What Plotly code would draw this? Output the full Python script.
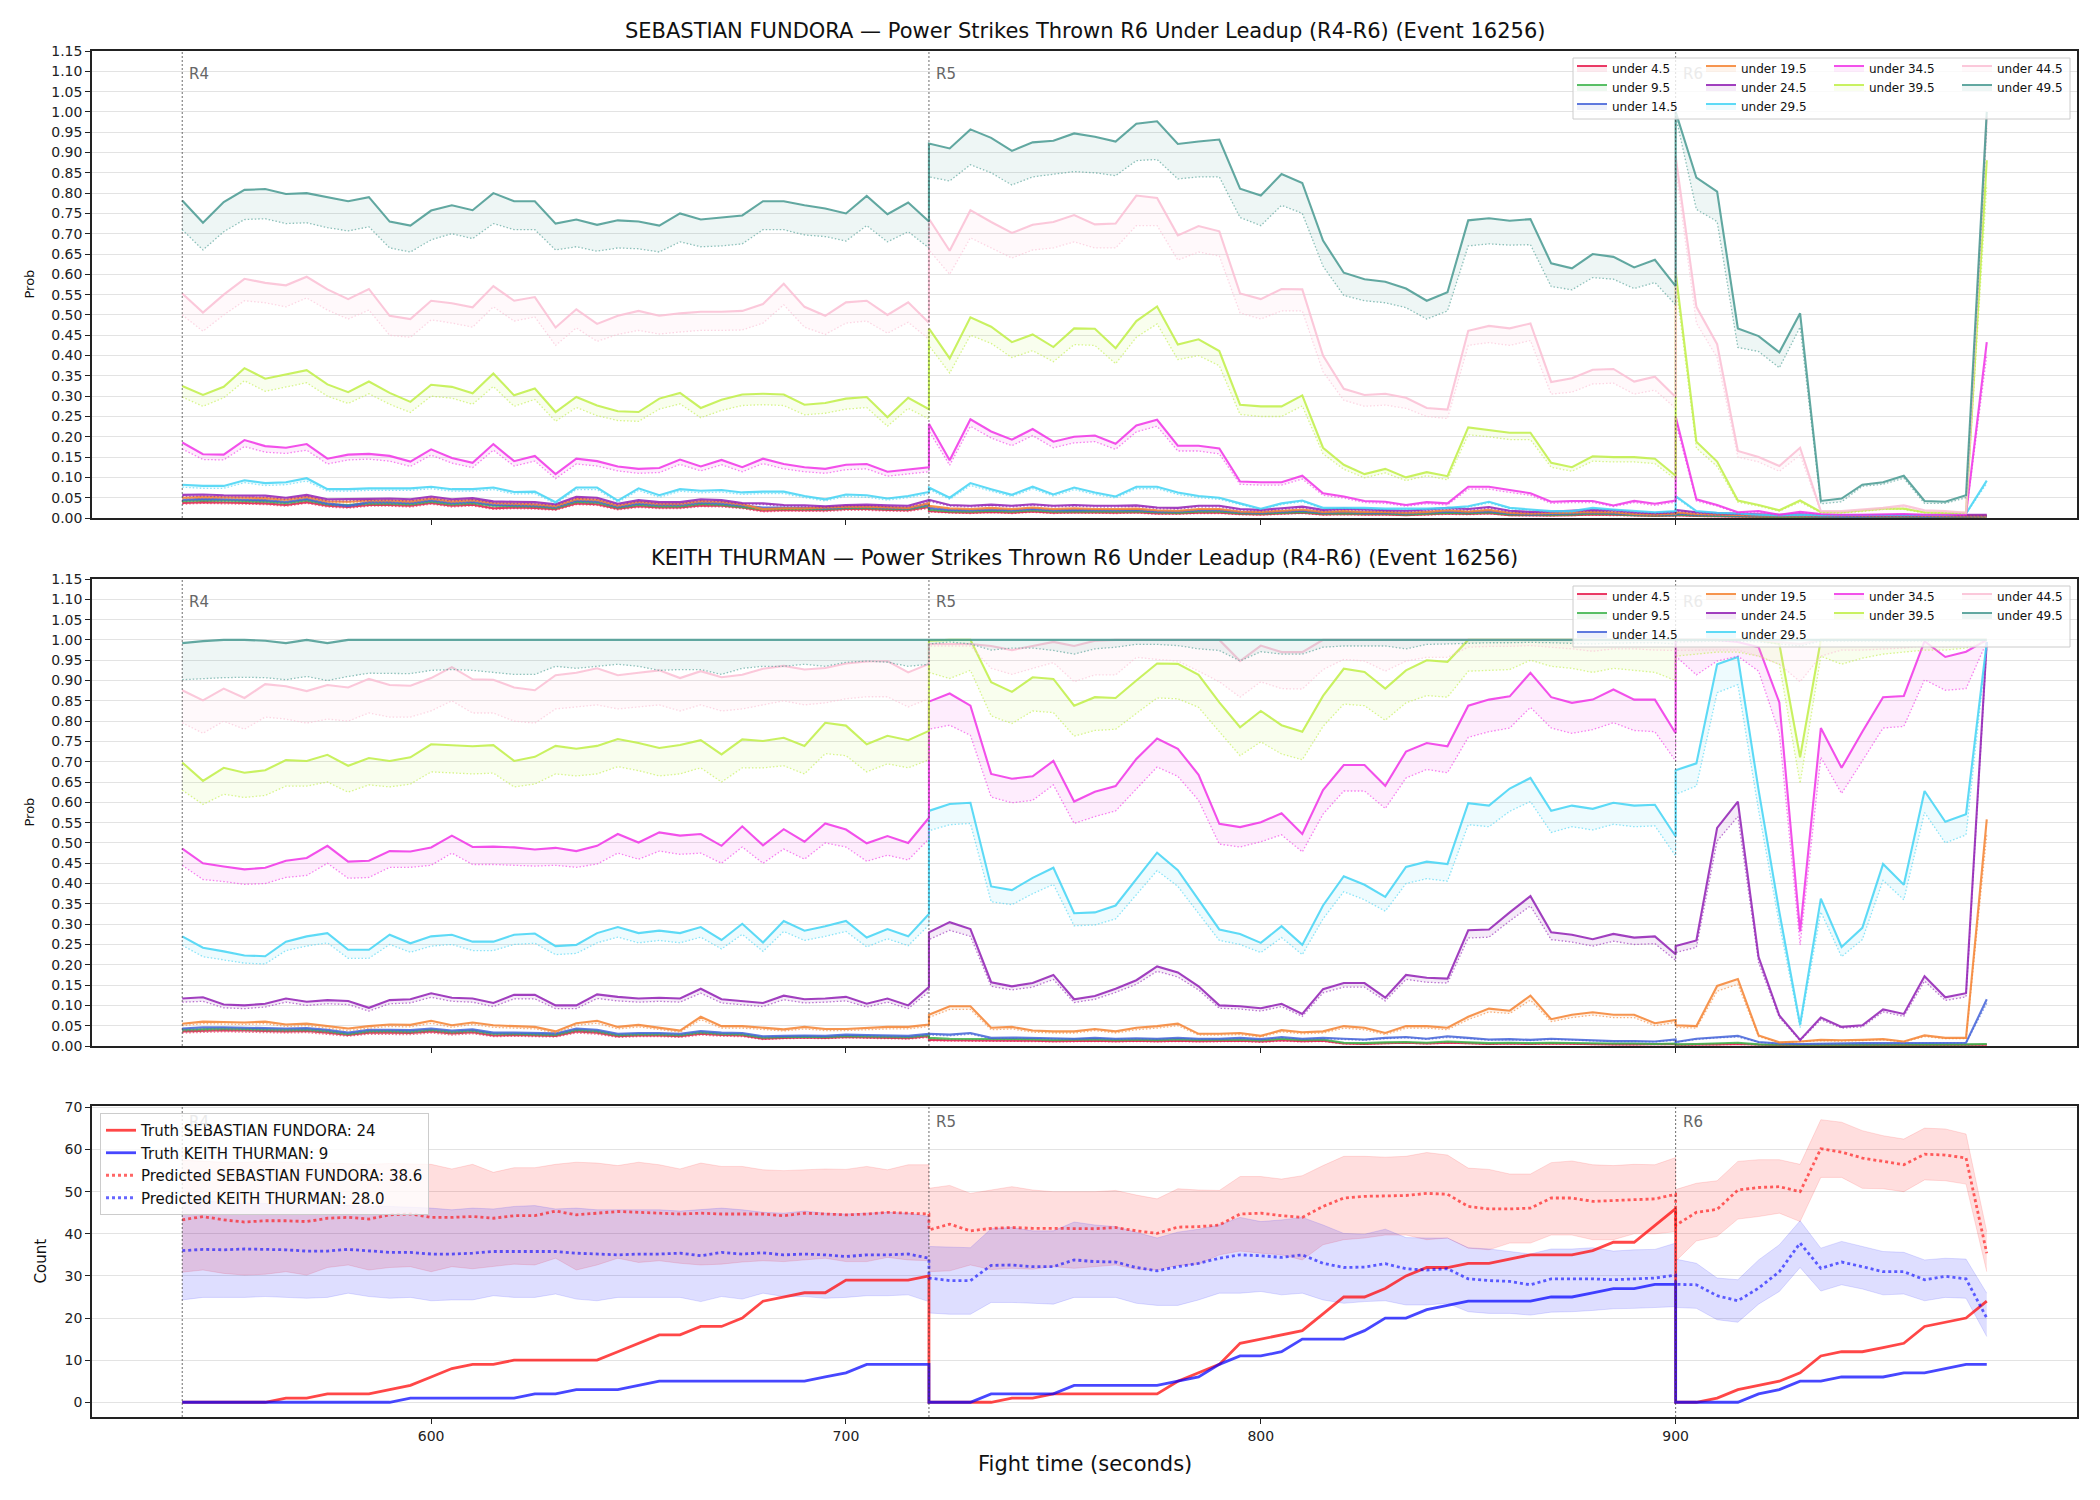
import plotly.graph_objects as go

FONT = "DejaVu Sans"

# ---------------- time axis (R4, R5, R6 samples every 5 s) ----------------
X = list(range(540, 721, 5)) + list(range(720, 901, 5)) + list(range(900, 976, 5))
ROUND_STARTS = [540, 720, 900]
ROUND_NAMES = ["R4", "R5", "R6"]
XTICKS = [600, 700, 800, 900]

LABELS = ["under 4.5", "under 9.5", "under 14.5", "under 19.5", "under 24.5",
          "under 29.5", "under 34.5", "under 39.5", "under 44.5", "under 49.5"]
COLORS = ["#e6194b", "#3cb44b", "#4363d8", "#f58231", "#911eb4",
          "#42d4f4", "#f032e6", "#bfef45", "#fabed4", "#469990"]

TITLE_F = "SEBASTIAN FUNDORA — Power Strikes Thrown R6 Under Leadup (R4-R6) (Event 16256)"
TITLE_T = "KEITH THURMAN — Power Strikes Thrown R6 Under Leadup (R4-R6) (Event 16256)"

# ================= SEBASTIAN FUNDORA : upper (solid) / lower (dotted) =================
F_U4 = [0.037,0.039,0.038,0.037,0.036,0.032,0.039,0.030,0.027,0.032,0.032,0.030,0.037,0.030,0.033,0.024,0.026,0.025,0.022,0.036,0.034,0.023,0.029,0.026,0.026,0.031,0.030,0.026,0.018,0.020,0.020,0.019,0.022,0.022,0.020,0.019,0.027,
        0.017,0.014,0.013,0.015,0.013,0.016,0.013,0.014,0.013,0.013,0.014,0.011,0.011,0.013,0.013,0.010,0.009,0.011,0.013,0.009,0.010,0.009,0.009,0.007,0.009,0.011,0.010,0.012,0.007,0.006,0.006,0.007,0.009,0.008,0.006,0.005,0.006,
        0.007,0.005,0.004,0.003,0.003,0.002,0.003,0.002,0.002,0.002,0.003,0.003,0.002,0.002,0.003,0.003]
F_U4_LO = [0.034,0.036,0.035,0.034,0.033,0.029,0.036,0.027,0.024,0.029,0.029,0.027,0.034,0.027,0.030,0.021,0.023,0.022,0.019,0.033,0.031,0.020,0.026,0.023,0.023,0.028,0.027,0.023,0.015,0.017,0.017,0.016,0.019,0.019,0.017,0.016,0.024,
           0.015,0.012,0.011,0.013,0.011,0.014,0.011,0.012,0.011,0.011,0.012,0.009,0.009,0.011,0.011,0.008,0.007,0.009,0.011,0.007,0.008,0.007,0.007,0.006,0.007,0.009,0.008,0.010,0.006,0.005,0.005,0.006,0.007,0.006,0.005,0.004,0.005,
           0.006,0.004,0.003,0.002,0.002,0.002,0.002,0.002,0.002,0.002,0.002,0.002,0.002,0.002,0.002,0.002]
F_U9 = [0.042,0.044,0.043,0.042,0.041,0.037,0.044,0.034,0.032,0.036,0.036,0.034,0.041,0.034,0.037,0.030,0.030,0.029,0.025,0.040,0.038,0.026,0.033,0.029,0.029,0.035,0.033,0.028,0.022,0.023,0.023,0.022,0.025,0.025,0.023,0.022,0.031,
        0.021,0.017,0.016,0.018,0.016,0.019,0.016,0.017,0.016,0.016,0.017,0.014,0.013,0.016,0.016,0.012,0.011,0.013,0.015,0.011,0.012,0.011,0.011,0.009,0.011,0.013,0.012,0.014,0.009,0.008,0.008,0.009,0.011,0.010,0.007,0.006,0.007,
        0.009,0.006,0.005,0.004,0.004,0.003,0.004,0.003,0.003,0.003,0.004,0.004,0.003,0.003,0.004,0.004]
F_U9_LO = [0.039,0.041,0.040,0.039,0.038,0.034,0.041,0.031,0.029,0.033,0.033,0.031,0.038,0.031,0.034,0.027,0.027,0.026,0.022,0.037,0.035,0.023,0.030,0.026,0.026,0.032,0.030,0.025,0.019,0.020,0.020,0.019,0.022,0.022,0.020,0.019,0.028,
           0.018,0.015,0.014,0.016,0.014,0.017,0.014,0.015,0.014,0.014,0.015,0.012,0.011,0.014,0.014,0.010,0.009,0.011,0.013,0.009,0.010,0.009,0.009,0.007,0.009,0.011,0.010,0.012,0.007,0.006,0.006,0.007,0.009,0.008,0.006,0.005,0.006,
           0.007,0.005,0.004,0.003,0.003,0.002,0.003,0.002,0.002,0.002,0.003,0.003,0.002,0.002,0.003,0.003]
F_U14 = [0.045,0.047,0.046,0.045,0.044,0.040,0.047,0.036,0.030,0.039,0.039,0.037,0.044,0.037,0.040,0.033,0.032,0.031,0.027,0.043,0.041,0.028,0.036,0.032,0.032,0.038,0.036,0.031,0.026,0.026,0.025,0.024,0.027,0.027,0.025,0.024,0.034,
         0.025,0.020,0.019,0.021,0.019,0.022,0.019,0.020,0.019,0.019,0.020,0.016,0.016,0.019,0.019,0.014,0.013,0.015,0.018,0.013,0.015,0.013,0.013,0.011,0.013,0.016,0.014,0.017,0.011,0.009,0.010,0.011,0.013,0.012,0.009,0.008,0.009,
         0.011,0.008,0.007,0.006,0.005,0.005,0.005,0.004,0.004,0.004,0.005,0.005,0.004,0.004,0.005,0.005]
F_U14_LO = [0.042,0.044,0.043,0.042,0.041,0.037,0.044,0.033,0.027,0.036,0.036,0.034,0.041,0.034,0.037,0.030,0.029,0.028,0.024,0.040,0.038,0.025,0.033,0.029,0.029,0.035,0.033,0.028,0.023,0.023,0.022,0.021,0.024,0.024,0.022,0.021,0.031,
            0.022,0.018,0.017,0.019,0.017,0.020,0.017,0.018,0.017,0.017,0.018,0.014,0.014,0.017,0.017,0.012,0.011,0.013,0.016,0.011,0.013,0.011,0.011,0.009,0.011,0.014,0.012,0.015,0.009,0.008,0.009,0.009,0.011,0.010,0.008,0.007,0.008,
            0.009,0.007,0.006,0.005,0.004,0.004,0.004,0.003,0.003,0.003,0.004,0.004,0.003,0.003,0.004,0.004]
F_U19 = [0.050,0.052,0.051,0.050,0.049,0.045,0.052,0.041,0.040,0.043,0.043,0.041,0.048,0.041,0.044,0.037,0.036,0.034,0.030,0.047,0.045,0.031,0.040,0.035,0.035,0.042,0.040,0.034,0.022,0.024,0.024,0.026,0.028,0.028,0.026,0.025,0.037,
         0.030,0.024,0.022,0.025,0.022,0.026,0.022,0.024,0.022,0.022,0.023,0.019,0.018,0.022,0.022,0.016,0.015,0.018,0.021,0.015,0.017,0.015,0.015,0.013,0.015,0.019,0.016,0.020,0.013,0.011,0.012,0.013,0.015,0.014,0.010,0.009,0.011,
         0.014,0.010,0.009,0.007,0.006,0.006,0.006,0.005,0.005,0.005,0.006,0.006,0.005,0.005,0.006,0.006]
F_U19_LO = [0.047,0.049,0.048,0.047,0.046,0.042,0.049,0.038,0.037,0.040,0.040,0.038,0.045,0.038,0.041,0.034,0.033,0.031,0.027,0.044,0.042,0.028,0.037,0.032,0.032,0.039,0.037,0.031,0.020,0.022,0.022,0.024,0.026,0.026,0.024,0.023,0.034,
            0.027,0.022,0.020,0.023,0.020,0.024,0.020,0.022,0.020,0.020,0.021,0.017,0.016,0.020,0.020,0.014,0.013,0.016,0.019,0.013,0.015,0.013,0.013,0.011,0.013,0.017,0.014,0.018,0.011,0.009,0.010,0.011,0.013,0.012,0.008,0.007,0.009,
            0.012,0.008,0.007,0.006,0.005,0.005,0.005,0.004,0.004,0.004,0.005,0.005,0.004,0.004,0.005,0.005]
F_U24 = [0.057,0.058,0.056,0.056,0.055,0.050,0.057,0.046,0.046,0.047,0.048,0.046,0.053,0.046,0.049,0.041,0.040,0.039,0.034,0.052,0.050,0.035,0.044,0.039,0.039,0.046,0.044,0.037,0.036,0.032,0.031,0.029,0.032,0.033,0.031,0.030,0.044,
         0.045,0.032,0.030,0.033,0.030,0.034,0.030,0.032,0.030,0.030,0.031,0.026,0.025,0.030,0.030,0.022,0.020,0.024,0.028,0.020,0.023,0.021,0.020,0.018,0.021,0.025,0.022,0.027,0.018,0.015,0.016,0.018,0.020,0.019,0.014,0.012,0.015,
         0.020,0.014,0.012,0.010,0.009,0.008,0.009,0.007,0.007,0.007,0.008,0.008,0.007,0.007,0.008,0.008]
F_U24_LO = [0.053,0.054,0.052,0.052,0.051,0.046,0.053,0.042,0.042,0.043,0.044,0.042,0.049,0.042,0.045,0.037,0.036,0.035,0.031,0.048,0.046,0.032,0.040,0.035,0.035,0.042,0.040,0.034,0.033,0.029,0.028,0.026,0.029,0.030,0.028,0.027,0.040,
            0.041,0.029,0.027,0.030,0.027,0.031,0.027,0.029,0.027,0.027,0.028,0.023,0.022,0.027,0.027,0.019,0.017,0.021,0.025,0.017,0.020,0.018,0.017,0.015,0.018,0.022,0.019,0.024,0.015,0.013,0.014,0.015,0.017,0.016,0.012,0.010,0.013,
            0.017,0.012,0.010,0.008,0.007,0.006,0.007,0.005,0.005,0.005,0.006,0.006,0.005,0.005,0.006,0.006]
F_U29 = [0.082,0.079,0.079,0.093,0.086,0.088,0.098,0.071,0.071,0.073,0.073,0.073,0.077,0.071,0.071,0.075,0.064,0.065,0.039,0.075,0.075,0.043,0.073,0.056,0.071,0.067,0.069,0.063,0.065,0.065,0.054,0.046,0.058,0.056,0.048,0.054,0.064,
         0.075,0.050,0.086,0.071,0.057,0.077,0.058,0.075,0.063,0.053,0.077,0.077,0.063,0.054,0.050,0.036,0.023,0.036,0.043,0.025,0.025,0.025,0.023,0.023,0.023,0.025,0.029,0.040,0.025,0.021,0.017,0.017,0.025,0.021,0.017,0.014,0.017,
         0.054,0.017,0.013,0.011,0.008,0.007,0.008,0.007,0.007,0.007,0.008,0.008,0.007,0.008,0.011,0.092]
F_U29_LO = [0.076,0.073,0.073,0.087,0.080,0.082,0.091,0.066,0.066,0.068,0.068,0.068,0.072,0.066,0.066,0.070,0.059,0.060,0.035,0.070,0.070,0.039,0.068,0.051,0.066,0.062,0.064,0.058,0.060,0.060,0.050,0.042,0.053,0.051,0.044,0.050,0.059,
            0.070,0.046,0.080,0.066,0.053,0.072,0.054,0.070,0.058,0.049,0.072,0.072,0.058,0.050,0.046,0.033,0.021,0.033,0.040,0.023,0.023,0.023,0.021,0.021,0.021,0.023,0.026,0.037,0.023,0.019,0.015,0.015,0.023,0.019,0.015,0.012,0.015,
            0.050,0.015,0.011,0.010,0.007,0.006,0.007,0.006,0.006,0.006,0.007,0.007,0.006,0.007,0.010,0.085]
F_U34 = [0.186,0.157,0.156,0.192,0.177,0.173,0.182,0.146,0.156,0.158,0.153,0.139,0.169,0.148,0.136,0.182,0.140,0.153,0.108,0.146,0.140,0.127,0.121,0.123,0.144,0.127,0.143,0.125,0.146,0.133,0.125,0.121,0.131,0.133,0.114,0.119,0.125,
         0.232,0.142,0.243,0.213,0.193,0.219,0.188,0.200,0.203,0.183,0.228,0.242,0.178,0.178,0.171,0.090,0.088,0.088,0.104,0.061,0.053,0.042,0.040,0.032,0.039,0.036,0.077,0.077,0.069,0.061,0.040,0.042,0.042,0.031,0.042,0.035,0.043,
         0.250,0.046,0.032,0.014,0.017,0.008,0.015,0.010,0.008,0.008,0.009,0.010,0.008,0.008,0.009,0.433]
F_U34_LO = [0.170,0.144,0.143,0.176,0.162,0.159,0.167,0.133,0.143,0.145,0.140,0.127,0.155,0.135,0.124,0.167,0.128,0.140,0.097,0.133,0.128,0.116,0.110,0.112,0.132,0.116,0.131,0.114,0.134,0.121,0.114,0.110,0.119,0.121,0.103,0.108,0.114,
            0.215,0.130,0.226,0.197,0.178,0.203,0.173,0.185,0.188,0.169,0.212,0.226,0.165,0.165,0.158,0.083,0.081,0.081,0.096,0.056,0.049,0.038,0.036,0.029,0.035,0.032,0.071,0.071,0.063,0.056,0.036,0.038,0.038,0.028,0.038,0.031,0.039,
            0.235,0.042,0.029,0.012,0.015,0.007,0.013,0.009,0.007,0.007,0.008,0.009,0.007,0.007,0.008,0.400]
F_U39 = [0.325,0.303,0.323,0.369,0.343,0.353,0.364,0.329,0.310,0.336,0.308,0.286,0.328,0.323,0.307,0.356,0.302,0.319,0.261,0.298,0.277,0.263,0.261,0.294,0.308,0.271,0.291,0.304,0.306,0.304,0.279,0.283,0.294,0.298,0.248,0.296,0.268,
         0.467,0.393,0.494,0.471,0.433,0.452,0.421,0.467,0.466,0.418,0.485,0.521,0.427,0.440,0.411,0.279,0.275,0.275,0.302,0.173,0.131,0.108,0.121,0.100,0.113,0.103,0.223,0.217,0.210,0.210,0.136,0.125,0.152,0.150,0.150,0.146,0.104,
         0.606,0.188,0.139,0.043,0.032,0.019,0.043,0.015,0.014,0.018,0.023,0.023,0.014,0.013,0.013,0.881]
F_U39_LO = [0.298,0.275,0.296,0.338,0.312,0.322,0.333,0.300,0.282,0.306,0.280,0.260,0.300,0.295,0.280,0.324,0.275,0.292,0.238,0.272,0.252,0.240,0.238,0.268,0.281,0.247,0.265,0.277,0.279,0.277,0.254,0.258,0.268,0.272,0.226,0.270,0.244,
            0.425,0.357,0.450,0.430,0.395,0.412,0.385,0.427,0.425,0.380,0.445,0.478,0.390,0.400,0.375,0.255,0.250,0.250,0.276,0.158,0.120,0.099,0.111,0.092,0.104,0.094,0.205,0.200,0.193,0.193,0.125,0.115,0.140,0.138,0.138,0.134,0.095,
            0.580,0.172,0.127,0.039,0.029,0.017,0.039,0.013,0.012,0.016,0.021,0.021,0.012,0.011,0.011,0.820]
F_U44 = [0.553,0.506,0.550,0.589,0.579,0.573,0.594,0.563,0.539,0.564,0.498,0.490,0.535,0.529,0.519,0.571,0.535,0.544,0.469,0.514,0.478,0.498,0.510,0.498,0.504,0.508,0.508,0.510,0.527,0.577,0.520,0.498,0.531,0.535,0.500,0.531,0.481,
         0.737,0.658,0.758,0.729,0.702,0.722,0.729,0.746,0.723,0.725,0.794,0.788,0.696,0.719,0.706,0.553,0.539,0.564,0.563,0.400,0.318,0.303,0.306,0.296,0.271,0.267,0.461,0.473,0.467,0.479,0.335,0.344,0.365,0.367,0.336,0.348,0.298,
         0.890,0.520,0.428,0.165,0.150,0.128,0.173,0.017,0.017,0.021,0.025,0.031,0.019,0.017,0.013,0.990]
F_U44_LO = [0.500,0.460,0.500,0.535,0.530,0.520,0.542,0.512,0.490,0.512,0.450,0.445,0.488,0.480,0.470,0.520,0.485,0.495,0.425,0.468,0.435,0.452,0.462,0.453,0.458,0.462,0.462,0.463,0.480,0.525,0.470,0.452,0.480,0.485,0.455,0.482,0.440,
            0.660,0.600,0.690,0.665,0.640,0.660,0.665,0.680,0.665,0.665,0.720,0.720,0.635,0.655,0.645,0.505,0.490,0.510,0.510,0.360,0.290,0.275,0.278,0.270,0.250,0.245,0.425,0.432,0.425,0.437,0.305,0.310,0.330,0.332,0.305,0.315,0.270,
            0.860,0.480,0.395,0.150,0.138,0.115,0.155,0.014,0.014,0.018,0.021,0.027,0.016,0.014,0.011,0.960]
F_U49 = [0.782,0.727,0.778,0.808,0.810,0.798,0.800,0.790,0.780,0.790,0.730,0.720,0.757,0.770,0.758,0.800,0.780,0.780,0.725,0.735,0.722,0.733,0.730,0.720,0.750,0.735,0.740,0.745,0.780,0.780,0.770,0.762,0.750,0.793,0.748,0.777,0.730,
         0.922,0.910,0.957,0.936,0.904,0.925,0.929,0.947,0.939,0.927,0.971,0.977,0.921,0.927,0.932,0.811,0.794,0.847,0.825,0.683,0.604,0.588,0.582,0.565,0.535,0.556,0.733,0.738,0.732,0.736,0.627,0.615,0.650,0.643,0.617,0.636,0.571,
         1.000,0.838,0.804,0.467,0.448,0.408,0.504,0.042,0.048,0.082,0.088,0.104,0.042,0.040,0.056,1.000]
F_U49_LO = [0.710,0.660,0.705,0.735,0.737,0.725,0.727,0.715,0.707,0.717,0.665,0.655,0.685,0.700,0.688,0.725,0.710,0.710,0.660,0.668,0.657,0.665,0.663,0.655,0.680,0.668,0.670,0.675,0.710,0.710,0.697,0.693,0.682,0.720,0.680,0.705,0.665,
            0.840,0.830,0.870,0.850,0.820,0.840,0.846,0.853,0.850,0.843,0.880,0.883,0.835,0.840,0.840,0.740,0.720,0.770,0.750,0.620,0.548,0.535,0.530,0.518,0.490,0.510,0.670,0.675,0.672,0.673,0.570,0.562,0.592,0.588,0.565,0.580,0.525,
            0.990,0.760,0.730,0.420,0.410,0.370,0.470,0.035,0.040,0.078,0.083,0.098,0.036,0.036,0.050,0.960]

# ================= KEITH THURMAN : upper (solid) / lower (dotted) =================
T_U4 = [0.036,0.037,0.039,0.038,0.037,0.036,0.037,0.033,0.027,0.033,0.033,0.032,0.036,0.031,0.034,0.026,0.027,0.026,0.025,0.036,0.033,0.024,0.026,0.026,0.024,0.030,0.027,0.026,0.018,0.020,0.021,0.020,0.022,0.021,0.020,0.019,0.024,
        0.015,0.014,0.014,0.013,0.014,0.013,0.012,0.013,0.013,0.012,0.013,0.012,0.013,0.012,0.012,0.013,0.011,0.014,0.012,0.013,0.006,0.005,0.007,0.008,0.006,0.008,0.007,0.005,0.006,0.005,0.006,0.005,0.005,0.004,0.004,0.004,0.005,
        0.003,0.003,0.004,0.005,0.003,0.002,0.002,0.002,0.002,0.003,0.003,0.003,0.003,0.003,0.003,0.003]
T_U4_LO = [0.032,0.033,0.035,0.034,0.033,0.032,0.033,0.029,0.024,0.029,0.029,0.028,0.032,0.027,0.030,0.023,0.024,0.023,0.022,0.032,0.029,0.021,0.023,0.023,0.021,0.027,0.024,0.023,0.016,0.018,0.019,0.018,0.020,0.019,0.018,0.017,0.021,
           0.013,0.012,0.012,0.011,0.012,0.011,0.010,0.011,0.011,0.010,0.011,0.010,0.011,0.010,0.010,0.011,0.009,0.012,0.010,0.011,0.005,0.004,0.006,0.007,0.005,0.007,0.006,0.004,0.005,0.004,0.005,0.004,0.004,0.003,0.003,0.003,0.004,
           0.002,0.002,0.003,0.004,0.002,0.001,0.001,0.001,0.001,0.002,0.002,0.002,0.002,0.002,0.002,0.002]
T_U9 = [0.040,0.042,0.043,0.042,0.041,0.040,0.041,0.037,0.030,0.037,0.037,0.036,0.040,0.035,0.038,0.030,0.030,0.029,0.028,0.040,0.037,0.027,0.029,0.029,0.027,0.034,0.030,0.029,0.021,0.022,0.023,0.022,0.025,0.024,0.023,0.022,0.027,
        0.020,0.018,0.018,0.017,0.018,0.017,0.015,0.016,0.017,0.015,0.016,0.015,0.017,0.015,0.015,0.016,0.014,0.018,0.015,0.016,0.008,0.007,0.009,0.010,0.008,0.011,0.009,0.007,0.008,0.007,0.008,0.007,0.007,0.006,0.006,0.005,0.006,
        0.004,0.005,0.006,0.008,0.004,0.003,0.003,0.003,0.003,0.004,0.004,0.004,0.004,0.004,0.004,0.005]
T_U9_LO = [0.036,0.038,0.039,0.038,0.037,0.036,0.037,0.033,0.027,0.033,0.033,0.032,0.036,0.031,0.034,0.027,0.027,0.026,0.025,0.036,0.033,0.024,0.026,0.026,0.024,0.031,0.027,0.026,0.019,0.020,0.021,0.020,0.022,0.021,0.020,0.019,0.024,
           0.018,0.016,0.016,0.015,0.016,0.015,0.013,0.014,0.015,0.013,0.014,0.013,0.015,0.013,0.013,0.014,0.012,0.016,0.013,0.014,0.007,0.006,0.008,0.009,0.007,0.010,0.008,0.006,0.007,0.006,0.007,0.006,0.006,0.005,0.005,0.004,0.005,
           0.003,0.004,0.005,0.007,0.003,0.002,0.002,0.002,0.002,0.003,0.003,0.003,0.003,0.003,0.003,0.004]
T_U14 = [0.043,0.046,0.046,0.045,0.044,0.043,0.044,0.040,0.033,0.040,0.040,0.039,0.043,0.038,0.041,0.033,0.033,0.032,0.031,0.043,0.040,0.030,0.032,0.032,0.030,0.037,0.033,0.032,0.024,0.025,0.026,0.025,0.028,0.027,0.026,0.025,0.030,
         0.030,0.028,0.032,0.020,0.021,0.020,0.018,0.018,0.020,0.018,0.019,0.018,0.020,0.018,0.018,0.020,0.017,0.022,0.018,0.020,0.018,0.016,0.020,0.022,0.018,0.024,0.020,0.016,0.017,0.015,0.018,0.016,0.015,0.012,0.012,0.011,0.016,
         0.010,0.018,0.022,0.025,0.010,0.006,0.005,0.006,0.006,0.007,0.007,0.007,0.008,0.008,0.008,0.115]
T_U14_LO = [0.039,0.042,0.042,0.041,0.040,0.039,0.040,0.036,0.030,0.036,0.036,0.035,0.039,0.034,0.037,0.030,0.030,0.029,0.028,0.039,0.036,0.027,0.029,0.029,0.027,0.033,0.030,0.029,0.021,0.022,0.023,0.022,0.025,0.024,0.023,0.022,0.027,
            0.027,0.025,0.029,0.018,0.019,0.018,0.016,0.016,0.018,0.016,0.017,0.016,0.018,0.016,0.016,0.018,0.015,0.020,0.016,0.018,0.016,0.014,0.018,0.020,0.016,0.021,0.018,0.014,0.015,0.013,0.016,0.014,0.013,0.011,0.011,0.010,0.014,
            0.009,0.016,0.020,0.022,0.009,0.005,0.004,0.005,0.005,0.006,0.006,0.006,0.007,0.007,0.007,0.105]
T_U19 = [0.055,0.060,0.059,0.058,0.060,0.053,0.055,0.049,0.043,0.049,0.053,0.052,0.062,0.051,0.058,0.051,0.049,0.047,0.036,0.056,0.062,0.047,0.052,0.045,0.038,0.072,0.049,0.049,0.045,0.041,0.047,0.042,0.042,0.045,0.047,0.047,0.053,
         0.077,0.098,0.098,0.045,0.047,0.038,0.036,0.036,0.042,0.036,0.045,0.049,0.055,0.030,0.030,0.032,0.025,0.039,0.034,0.036,0.049,0.045,0.032,0.049,0.049,0.045,0.072,0.092,0.087,0.124,0.066,0.077,0.083,0.077,0.077,0.056,0.064,
         0.051,0.049,0.148,0.165,0.026,0.009,0.011,0.015,0.014,0.015,0.017,0.011,0.026,0.020,0.020,0.558]
T_U19_LO = [0.050,0.055,0.054,0.053,0.055,0.048,0.050,0.044,0.038,0.044,0.048,0.047,0.056,0.046,0.053,0.046,0.044,0.042,0.032,0.051,0.056,0.042,0.047,0.040,0.034,0.065,0.044,0.044,0.040,0.037,0.042,0.038,0.038,0.040,0.042,0.042,0.048,
            0.070,0.090,0.090,0.040,0.042,0.034,0.032,0.032,0.038,0.032,0.040,0.044,0.050,0.027,0.027,0.028,0.022,0.035,0.030,0.032,0.044,0.040,0.028,0.044,0.044,0.040,0.065,0.084,0.080,0.113,0.060,0.070,0.076,0.070,0.070,0.050,0.058,
            0.046,0.044,0.135,0.152,0.023,0.008,0.010,0.013,0.012,0.013,0.015,0.010,0.023,0.018,0.018,0.520]
T_U24 = [0.117,0.120,0.102,0.100,0.104,0.117,0.109,0.113,0.111,0.094,0.113,0.115,0.130,0.119,0.117,0.106,0.126,0.126,0.100,0.100,0.127,0.121,0.117,0.119,0.117,0.141,0.115,0.111,0.106,0.124,0.115,0.117,0.121,0.104,0.117,0.100,0.145,
         0.280,0.305,0.288,0.157,0.147,0.155,0.175,0.115,0.123,0.141,0.162,0.196,0.181,0.147,0.100,0.098,0.093,0.104,0.079,0.140,0.155,0.155,0.119,0.175,0.168,0.166,0.285,0.287,0.329,0.369,0.280,0.274,0.263,0.276,0.267,0.270,0.226,
         0.246,0.260,0.537,0.602,0.219,0.075,0.015,0.070,0.047,0.051,0.090,0.079,0.172,0.120,0.130,0.995]
T_U24_LO = [0.108,0.110,0.094,0.092,0.096,0.108,0.100,0.104,0.102,0.086,0.104,0.106,0.120,0.110,0.108,0.097,0.116,0.116,0.092,0.092,0.117,0.111,0.108,0.110,0.108,0.130,0.106,0.102,0.097,0.114,0.106,0.108,0.111,0.096,0.108,0.092,0.134,
            0.262,0.285,0.270,0.147,0.138,0.145,0.164,0.107,0.115,0.132,0.152,0.184,0.170,0.138,0.093,0.091,0.086,0.097,0.073,0.131,0.145,0.145,0.111,0.164,0.157,0.155,0.266,0.268,0.308,0.345,0.262,0.256,0.246,0.258,0.250,0.252,0.211,
            0.230,0.243,0.505,0.565,0.205,0.070,0.013,0.065,0.044,0.047,0.084,0.073,0.160,0.112,0.121,0.985]
T_U29 = [0.270,0.242,0.233,0.223,0.221,0.257,0.270,0.278,0.237,0.237,0.274,0.253,0.270,0.274,0.257,0.257,0.274,0.277,0.246,0.249,0.278,0.293,0.278,0.284,0.278,0.293,0.261,0.301,0.255,0.308,0.284,0.295,0.308,0.267,0.288,0.270,0.325,
         0.579,0.596,0.599,0.393,0.384,0.414,0.439,0.327,0.329,0.346,0.411,0.476,0.433,0.360,0.287,0.276,0.254,0.295,0.249,0.346,0.418,0.397,0.367,0.441,0.454,0.448,0.598,0.592,0.634,0.660,0.579,0.592,0.584,0.599,0.592,0.594,0.516,
         0.679,0.696,0.940,0.958,0.630,0.330,0.053,0.363,0.244,0.291,0.448,0.397,0.628,0.552,0.571,0.995]
T_U29_LO = [0.248,0.220,0.212,0.204,0.202,0.235,0.246,0.254,0.216,0.216,0.250,0.231,0.246,0.250,0.235,0.235,0.250,0.253,0.225,0.228,0.254,0.268,0.254,0.260,0.254,0.268,0.239,0.275,0.233,0.282,0.260,0.270,0.282,0.244,0.264,0.247,0.298,
            0.530,0.545,0.548,0.355,0.348,0.375,0.398,0.296,0.298,0.313,0.372,0.432,0.393,0.326,0.260,0.250,0.230,0.267,0.225,0.313,0.380,0.360,0.332,0.400,0.412,0.406,0.545,0.540,0.578,0.602,0.526,0.540,0.532,0.546,0.540,0.542,0.468,
            0.620,0.640,0.870,0.890,0.580,0.300,0.045,0.330,0.220,0.262,0.408,0.360,0.575,0.500,0.520,0.985]
T_U34 = [0.486,0.450,0.442,0.435,0.439,0.456,0.463,0.493,0.454,0.456,0.480,0.479,0.489,0.518,0.490,0.491,0.489,0.484,0.488,0.480,0.493,0.522,0.501,0.526,0.518,0.522,0.493,0.541,0.494,0.534,0.503,0.548,0.533,0.499,0.517,0.500,0.562,
         0.848,0.868,0.838,0.670,0.658,0.664,0.702,0.602,0.626,0.640,0.707,0.757,0.732,0.668,0.547,0.539,0.551,0.573,0.522,0.630,0.692,0.692,0.641,0.725,0.746,0.738,0.838,0.853,0.861,0.919,0.859,0.845,0.853,0.878,0.853,0.853,0.770,
         1.000,1.000,1.000,0.995,0.982,0.846,0.282,0.783,0.685,0.774,0.859,0.862,0.997,0.958,0.971,1.000]
T_U34_LO = [0.445,0.410,0.405,0.398,0.400,0.415,0.420,0.450,0.413,0.415,0.440,0.440,0.445,0.475,0.447,0.447,0.445,0.443,0.445,0.440,0.448,0.475,0.460,0.480,0.472,0.475,0.450,0.490,0.450,0.485,0.460,0.500,0.490,0.455,0.470,0.458,0.510,
            0.780,0.790,0.765,0.613,0.599,0.605,0.643,0.548,0.565,0.579,0.634,0.687,0.664,0.605,0.497,0.490,0.503,0.520,0.478,0.571,0.628,0.628,0.585,0.660,0.681,0.673,0.760,0.774,0.783,0.834,0.783,0.770,0.779,0.796,0.777,0.774,0.702,
            0.960,0.914,0.948,0.960,0.923,0.770,0.249,0.711,0.622,0.702,0.783,0.787,0.902,0.876,0.880,0.995]
T_U39 = [0.698,0.653,0.685,0.673,0.679,0.704,0.702,0.717,0.690,0.709,0.702,0.711,0.743,0.741,0.738,0.741,0.702,0.712,0.739,0.732,0.739,0.756,0.746,0.734,0.741,0.753,0.718,0.755,0.751,0.759,0.739,0.796,0.789,0.743,0.764,0.753,0.776,
         0.998,1.000,1.000,0.896,0.872,0.908,0.904,0.838,0.859,0.857,0.900,0.942,0.941,0.914,0.846,0.785,0.825,0.790,0.774,0.862,0.929,0.921,0.880,0.925,0.950,0.946,1.000,1.000,1.000,1.000,1.000,1.000,1.000,1.000,1.000,1.000,1.000,
         1.000,1.000,1.000,1.000,1.000,0.990,0.711,1.000,1.000,1.000,1.000,1.000,1.000,1.000,1.000,1.000]
T_U39_LO = [0.630,0.595,0.620,0.612,0.617,0.640,0.640,0.650,0.625,0.643,0.638,0.645,0.675,0.672,0.670,0.672,0.638,0.645,0.670,0.665,0.670,0.688,0.678,0.665,0.670,0.685,0.650,0.685,0.685,0.690,0.670,0.720,0.715,0.675,0.695,0.685,0.705,
            0.920,0.905,0.925,0.813,0.794,0.825,0.821,0.763,0.777,0.780,0.819,0.857,0.855,0.834,0.774,0.715,0.749,0.719,0.705,0.787,0.842,0.838,0.802,0.845,0.863,0.859,0.923,0.925,0.927,0.950,0.935,0.930,0.920,0.930,0.925,0.920,0.900,
            0.960,0.965,0.970,0.970,0.960,0.940,0.647,0.960,0.940,0.955,0.965,0.970,0.975,0.975,0.980,0.995]
T_U44 = [0.876,0.851,0.880,0.857,0.891,0.886,0.874,0.889,0.883,0.904,0.889,0.887,0.906,0.933,0.903,0.902,0.883,0.876,0.913,0.919,0.930,0.913,0.919,0.925,0.906,0.923,0.908,0.914,0.929,0.936,0.927,0.931,0.942,0.947,0.948,0.920,0.941,
         0.990,0.990,0.990,0.985,0.975,0.985,0.995,0.985,0.998,1.000,1.000,1.000,1.000,1.000,1.000,0.948,0.986,0.970,0.970,1.000,1.000,1.000,1.000,1.000,1.000,1.000,1.000,1.000,1.000,1.000,1.000,1.000,1.000,1.000,1.000,1.000,1.000,
         1.000,1.000,1.000,1.000,1.000,0.995,0.990,1.000,1.000,1.000,1.000,1.000,1.000,1.000,1.000,1.000]
T_U44_LO = [0.796,0.770,0.800,0.780,0.810,0.805,0.795,0.805,0.800,0.820,0.810,0.810,0.825,0.850,0.820,0.820,0.800,0.795,0.830,0.835,0.840,0.830,0.835,0.840,0.825,0.840,0.825,0.830,0.840,0.850,0.840,0.845,0.855,0.860,0.860,0.835,0.855,
            0.985,0.985,0.985,0.930,0.915,0.930,0.944,0.897,0.914,0.914,0.957,0.952,0.948,0.923,0.897,0.859,0.897,0.880,0.879,0.927,0.952,0.948,0.923,0.948,0.957,0.957,0.982,0.984,0.984,0.986,0.982,0.978,0.972,0.978,0.978,0.975,0.974,
            0.974,0.975,0.975,0.975,0.960,0.940,0.897,0.960,0.975,0.975,0.978,0.980,0.985,0.982,0.985,0.995]
T_U49 = [0.992,0.997,1.000,1.000,0.998,0.992,1.000,0.992,1.000,1.000,1.000,1.000,1.000,1.000,1.000,1.000,1.000,1.000,1.000,1.000,1.000,1.000,1.000,1.000,1.000,1.000,1.000,1.000,1.000,1.000,1.000,1.000,1.000,1.000,1.000,1.000,1.000,
         1.000,1.000,1.000,1.000,1.000,1.000,1.000,1.000,1.000,1.000,1.000,1.000,1.000,1.000,1.000,1.000,1.000,1.000,1.000,1.000,1.000,1.000,1.000,1.000,1.000,1.000,1.000,1.000,1.000,1.000,1.000,1.000,1.000,1.000,1.000,1.000,1.000,
         1.000,1.000,1.000,1.000,1.000,1.000,1.000,1.000,1.000,1.000,1.000,1.000,1.000,1.000,1.000,1.000]
T_U49_LO = [0.902,0.905,0.907,0.908,0.907,0.902,0.910,0.900,0.910,0.918,0.918,0.917,0.925,0.927,0.925,0.920,0.915,0.915,0.935,0.930,0.935,0.940,0.935,0.925,0.927,0.927,0.915,0.930,0.935,0.935,0.940,0.935,0.945,0.948,0.945,0.935,0.940,
            0.990,0.995,0.990,0.975,0.980,0.980,0.974,0.965,0.978,0.982,0.989,0.989,0.986,0.978,0.974,0.948,0.971,0.965,0.965,0.982,0.985,0.985,0.985,0.978,0.989,0.990,0.992,0.993,0.993,0.994,0.993,0.992,0.990,0.992,0.993,0.993,0.990,
            0.995,0.996,0.997,0.997,0.995,0.990,0.985,0.997,0.997,0.997,0.997,0.997,0.998,0.997,0.997,0.999]

# ================= Counts (bottom panel) =================
TRUTH_F = [0,0,0,0,0,1,1,2,2,2,3,4,6,8,9,9,10,10,10,10,10,12,14,16,16,18,18,20,24,25,26,26,29,29,29,29,30,
           0,0,0,0,1,1,2,2,2,2,2,2,5,7,9,14,15,16,17,21,25,25,27,30,32,32,33,33,34,35,35,35,36,38,38,42,46,
           0,0,1,3,4,5,7,11,12,12,13,14,18,19,20,24]
TRUTH_T = [0,0,0,0,0,0,0,0,0,0,0,1,1,1,1,1,1,2,2,3,3,3,4,5,5,5,5,5,5,5,5,6,7,9,9,9,9,
           0,0,0,2,2,2,2,4,4,4,4,4,5,6,9,11,11,12,15,15,15,17,20,20,22,23,24,24,24,24,25,25,26,27,27,28,28,
           0,0,0,0,2,3,5,5,6,6,6,7,7,8,9,9]
PRED_F = [43.3,44.1,43.3,42.8,43.1,43.1,42.9,43.7,43.9,43.5,44.5,44.7,43.9,43.9,44.1,43.7,44.3,44.3,45.4,44.5,44.9,45.3,45.1,44.9,44.7,44.9,44.7,44.7,44.7,44.3,44.9,44.7,44.5,44.7,45.1,44.9,44.7,
          40.9,42.3,40.7,41.3,41.5,41.3,41.3,41.2,41.2,41.5,40.7,40.1,41.6,41.7,42.1,44.7,44.9,44.3,43.9,46.5,48.5,48.9,49.0,49.1,49.6,49.4,46.5,45.9,45.9,46.1,48.5,48.5,47.7,47.9,48.2,48.3,49.4,
          42.0,45.1,45.8,50.4,51.0,51.2,50.0,60.2,59.4,58.0,57.2,56.4,58.9,58.7,58.0,35.4]
PRED_F_HI = [57.5,57.3,57.0,57.0,57.2,57.0,56.8,56.8,56.6,56.5,56.7,56.6,56.5,55.4,56.5,54.6,55.7,55.7,56.5,57.0,56.8,56.2,57.0,56.4,55.4,56.8,56.0,56.0,55.2,55.0,55.2,55.4,55.3,56.0,55.2,56.4,56.4,
             50.8,51.5,49.6,50.4,51.2,50.4,50.0,50.0,50.0,50.3,49.2,48.3,50.7,50.4,50.3,53.6,53.6,53.0,53.8,56.2,58.4,58.4,58.2,58.4,59.3,58.7,55.6,55.3,54.2,54.2,56.9,57.3,56.4,56.2,56.5,56.4,58.1,
             50.5,52.0,52.6,57.2,57.6,57.6,56.5,67.1,66.5,64.5,63.3,62.5,65.1,64.9,63.7,40.5]
PRED_F_LO = [30.9,31.4,30.6,30.2,30.4,31.0,30.2,32.0,32.6,31.4,32.0,32.2,31.0,32.2,31.7,32.2,32.8,32.6,34.2,31.4,32.6,34.2,33.2,33.6,33.0,32.6,32.8,33.3,33.6,33.4,33.8,34.2,33.4,33.4,34.4,33.8,33.6,
             31.0,31.2,32.6,31.5,31.8,31.6,32.2,31.8,32.2,32.6,31.6,31.4,32.5,32.8,35.0,35.9,35.4,35.0,33.8,37.4,38.6,39.0,39.7,39.7,38.6,39.0,36.6,36.2,37.8,37.8,39.7,39.7,38.6,38.6,40.0,40.0,40.5,
             33.5,38.3,39.4,43.5,44.1,44.9,42.9,53.4,53.4,50.8,50.7,50.0,52.8,52.6,51.8,31.0]
PRED_T = [36.0,36.3,36.2,36.4,36.3,36.2,35.9,35.9,36.3,35.9,35.6,35.6,35.2,35.2,35.4,35.8,35.8,35.8,35.8,35.4,35.2,35.0,35.2,35.2,35.4,34.8,35.6,35.2,35.5,35.0,35.2,35.0,34.6,35.0,35.0,35.2,34.2,
          29.5,28.9,28.9,32.5,32.6,32.2,32.2,33.8,33.4,33.3,32.0,31.2,32.2,33.0,34.2,35.0,34.8,34.4,35.0,33.0,32.0,32.1,32.9,31.7,31.4,31.7,29.3,28.9,28.7,27.9,29.3,29.3,29.3,29.1,29.3,29.5,30.2,
          28.0,27.9,25.3,24.1,27.1,31.0,37.8,31.8,33.3,32.2,31.0,31.0,29.1,29.9,29.3,20.0]
PRED_T_HI = [47.7,47.8,47.5,47.3,47.2,47.1,47.0,46.9,46.7,46.5,46.5,46.3,46.1,45.7,46.1,45.9,46.5,46.7,45.9,46.1,45.7,45.7,45.7,45.7,45.4,45.7,46.1,45.7,45.1,44.9,45.4,44.9,44.7,44.9,45.1,44.9,44.1,
             37.0,36.8,36.7,41.2,41.5,40.7,40.7,42.8,42.1,41.7,40.4,39.0,40.4,41.1,42.1,43.9,42.9,43.3,43.9,42.1,40.1,39.9,41.1,39.1,39.0,39.0,36.7,36.4,35.8,35.2,36.4,36.4,36.7,35.9,36.2,36.3,37.8,
             34.0,33.0,29.5,29.1,33.8,37.4,43.1,36.6,38.2,37.0,35.8,35.6,33.8,34.2,34.0,25.9]
PRED_T_LO = [24.3,24.9,24.9,24.9,25.1,24.9,24.7,24.9,25.9,25.1,24.7,24.9,24.1,24.3,24.3,25.3,24.9,24.9,25.7,24.5,24.1,24.9,24.9,24.9,24.9,23.9,25.1,24.5,25.9,25.1,25.1,24.7,24.9,25.3,25.3,25.5,23.9,
             21.2,20.9,20.9,23.7,23.7,23.5,23.3,24.9,24.9,24.9,23.5,23.0,23.0,24.3,25.9,25.9,26.3,25.5,25.9,24.3,23.5,23.9,24.1,23.1,23.1,23.5,21.5,21.1,21.1,20.7,21.4,21.5,21.8,22.2,22.3,22.5,22.7,
             22.5,22.3,19.6,19.0,23.3,26.3,32.0,26.4,27.9,26.9,25.5,25.7,24.1,24.9,24.7,15.6]

LEG_TRUTH_F = "Truth SEBASTIAN FUNDORA: 24"
LEG_TRUTH_T = "Truth KEITH THURMAN: 9"
LEG_PRED_F = "Predicted SEBASTIAN FUNDORA: 38.6"
LEG_PRED_T = "Predicted KEITH THURMAN: 28.0"

F_HI = [F_U4, F_U9, F_U14, F_U19, F_U24, F_U29, F_U34, F_U39, F_U44, F_U49]
F_LO = [F_U4_LO, F_U9_LO, F_U14_LO, F_U19_LO, F_U24_LO, F_U29_LO, F_U34_LO, F_U39_LO, F_U44_LO, F_U49_LO]
T_HI = [T_U4, T_U9, T_U14, T_U19, T_U24, T_U29, T_U34, T_U39, T_U44, T_U49]
T_LO = [T_U4_LO, T_U9_LO, T_U14_LO, T_U19_LO, T_U24_LO, T_U29_LO, T_U34_LO, T_U39_LO, T_U44_LO, T_U49_LO]

bad = []
for nm, arr in list(zip(["F%d" % i for i in range(10)], F_HI)) + list(zip(["FL%d" % i for i in range(10)], F_LO)) + \
        list(zip(["T%d" % i for i in range(10)], T_HI)) + list(zip(["TL%d" % i for i in range(10)], T_LO)) + \
        [("TF", TRUTH_F), ("TT", TRUTH_T), ("PF", PRED_F), ("PFH", PRED_F_HI), ("PFL", PRED_F_LO),
         ("PT", PRED_T), ("PTH", PRED_T_HI), ("PTL", PRED_T_LO)]:
    if len(arr) != len(X):
        bad.append((nm, len(arr)))
assert not bad, "length mismatch: %s (expected %d)" % (bad, len(X))

# ---------------- geometry ----------------
W, H = 2100, 1500
ML, MR, MT, MB = 92, 23, 51, 83
PW, PH = W - ML - MR, H - MT - MB


def pxx(px):
    return (px - ML) / PW


def pxy(py):
    return (H - MB - py) / PH


def rgba(hx, a):
    hx = hx.lstrip("#")
    r, g, b = int(hx[0:2], 16), int(hx[2:4], 16), int(hx[4:6], 16)
    return "rgba(%d,%d,%d,%.3f)" % (r, g, b, a)


DOM = {1: [pxy(518), pxy(51)], 2: [pxy(1046), pxy(579)], 3: [pxy(1417), pxy(1106)]}

fig = go.Figure()

# ---------------- probability panels ----------------
COL_OF = [0, 0, 0, 1, 1, 1, 2, 2, 3, 3]
for panel, (HI, LO, leg_base) in {1: (F_HI, F_LO, 1), 2: (T_HI, T_LO, 5)}.items():
    xa = "x" if panel == 1 else "x%d" % panel
    ya = "y" if panel == 1 else "y%d" % panel
    for i in range(10):
        c = COLORS[i]
        fig.add_trace(go.Scatter(x=X, y=LO[i], mode="lines", xaxis=xa, yaxis=ya,
                                 line=dict(color=rgba(c, 0.6), width=1.3, dash="1.5px,2px"),
                                 showlegend=False, hoverinfo="skip"))
        lid = leg_base + COL_OF[i]
        fig.add_trace(go.Scatter(x=X, y=HI[i], mode="lines", xaxis=xa, yaxis=ya,
                                 fill="tonexty", fillcolor=rgba(c, 0.09),
                                 line=dict(color=rgba(c, 0.85), width=2.1),
                                 name=LABELS[i], legend="legend" if lid == 1 else "legend%d" % lid,
                                 showlegend=True, hoverinfo="skip"))

# ---------------- count panel ----------------
for lo, hi, col in [(PRED_F_LO, PRED_F_HI, "#ff0000"), (PRED_T_LO, PRED_T_HI, "#0000ff")]:
    fig.add_trace(go.Scatter(x=X, y=lo, mode="lines", xaxis="x3", yaxis="y3",
                             line=dict(color=rgba(col, 0.12), width=1), showlegend=False, hoverinfo="skip"))
    fig.add_trace(go.Scatter(x=X, y=hi, mode="lines", xaxis="x3", yaxis="y3", fill="tonexty",
                             fillcolor=rgba(col, 0.13), line=dict(color=rgba(col, 0.12), width=1),
                             showlegend=False, hoverinfo="skip"))

fig.add_trace(go.Scatter(x=X, y=TRUTH_F, mode="lines", xaxis="x3", yaxis="y3", name=LEG_TRUTH_F,
                         line=dict(color=rgba("#ff0000", 0.72), width=2.8), legend="legend9", hoverinfo="skip"))
fig.add_trace(go.Scatter(x=X, y=TRUTH_T, mode="lines", xaxis="x3", yaxis="y3", name=LEG_TRUTH_T,
                         line=dict(color=rgba("#0000ff", 0.72), width=2.8), legend="legend9", hoverinfo="skip"))
fig.add_trace(go.Scatter(x=X, y=PRED_F, mode="lines", xaxis="x3", yaxis="y3", name=LEG_PRED_F,
                         line=dict(color=rgba("#ff0000", 0.6), width=2.8, dash="dot"), legend="legend9", hoverinfo="skip"))
fig.add_trace(go.Scatter(x=X, y=PRED_T, mode="lines", xaxis="x3", yaxis="y3", name=LEG_PRED_T,
                         line=dict(color=rgba("#0000ff", 0.6), width=2.8, dash="dot"), legend="legend9", hoverinfo="skip"))

# ---------------- axes ----------------
axis_common = dict(showline=True, mirror=True, linecolor="#222222", linewidth=1.5,
                   ticks="outside", ticklen=5, tickwidth=1.2, tickcolor="#222222",
                   tickfont=dict(family=FONT, size=14, color="#222222"), zeroline=False)
XRANGE = [518.25, 996.75]
layout = dict(
    width=W, height=H, autosize=False,
    margin=dict(l=ML, r=MR, t=MT, b=MB, pad=0),
    paper_bgcolor="white", plot_bgcolor="white",
    font=dict(family=FONT, color="#222222"),
    showlegend=True,
)
PROB_TICKS = [round(k * 0.05, 2) for k in range(24)]
for p in (1, 2, 3):
    sx = "" if p == 1 else str(p)
    layout["xaxis" + sx] = dict(axis_common, domain=[0, 1], range=XRANGE, tickvals=XTICKS,
                                showticklabels=(p == 3), showgrid=False,
                                anchor="y" + sx, **({} if p == 1 else {"matches": "x"}))
    if p < 3:
        layout["yaxis" + sx] = dict(axis_common, domain=DOM[p], range=[0, 1.15], tickvals=PROB_TICKS,
                                    tickformat=".2f", showgrid=True, gridcolor="rgba(0,0,0,0.11)",
                                    gridwidth=1, anchor="x" + sx)
    else:
        layout["yaxis3"] = dict(axis_common, domain=DOM[3], range=[-3.5, 70.35],
                                tickvals=[0, 10, 20, 30, 40, 50, 60, 70], showgrid=True,
                                gridcolor="rgba(0,0,0,0.11)", gridwidth=1, anchor="x3")

# legends: 4 column-legends per probability panel
col_px = [1572, 1701, 1829, 1957]
leg_common = dict(bgcolor="rgba(0,0,0,0)", borderwidth=0, orientation="v", xanchor="left",
                  yanchor="top", itemwidth=30, tracegroupgap=0, traceorder="normal",
                  font=dict(family=FONT, size=12, color="#111111"))
for base, top_px in [(1, 53.5), (5, 581.5)]:
    for k in range(4):
        lid = base + k
        key = "legend" if lid == 1 else "legend%d" % lid
        layout[key] = dict(leg_common, x=pxx(col_px[k]), y=pxy(top_px))
layout["legend9"] = dict(bgcolor="rgba(255,255,255,0.8)", bordercolor="#cccccc", borderwidth=1,
                         orientation="v", xanchor="left", yanchor="top", itemwidth=30,
                         tracegroupgap=0, traceorder="normal", x=pxx(100), y=pxy(1113),
                         font=dict(family=FONT, size=15, color="#111111"))

# ---------------- shapes: round lines and legend boxes ----------------
shapes = []
for p in (1, 2, 3):
    sx = "" if p == 1 else str(p)
    for xs in ROUND_STARTS:
        shapes.append(dict(type="line", xref="x" + sx, yref="y" + sx + " domain", x0=xs, x1=xs, y0=0, y1=1,
                           line=dict(color="rgba(60,60,60,0.75)", width=1, dash="2px,2px"), layer="above"))
for y0, y1 in [(119, 58), (647, 586)]:
    shapes.append(dict(type="rect", xref="paper", yref="paper", x0=pxx(1573), x1=pxx(2070),
                       y0=pxy(y0), y1=pxy(y1), fillcolor="rgba(255,255,255,0.8)",
                       line=dict(color="#cccccc", width=1), layer="above"))
layout["shapes"] = shapes

# ---------------- annotations ----------------
ann = []
ann.append(dict(text=TITLE_F, xref="paper", yref="paper", x=0.5, y=pxy(31), xanchor="center", yanchor="middle",
                showarrow=False, font=dict(family=FONT, size=21, color="#111111")))
ann.append(dict(text=TITLE_T, xref="paper", yref="paper", x=0.5, y=pxy(558), xanchor="center", yanchor="middle",
                showarrow=False, font=dict(family=FONT, size=21, color="#111111")))
ann.append(dict(text="Fight time (seconds)", xref="paper", yref="paper", x=0.5, y=pxy(1464), xanchor="center",
                yanchor="middle", showarrow=False, font=dict(family=FONT, size=21, color="#111111")))
for p, lab, xpx, fs in [(1, "Prob", 29, 13), (2, "Prob", 29, 13), (3, "Count", 40, 15)]:
    ann.append(dict(text=lab, xref="paper", yref="paper", x=pxx(xpx), y=(DOM[p][0] + DOM[p][1]) / 2,
                    xanchor="center", yanchor="middle", textangle=-90, showarrow=False,
                    font=dict(family=FONT, size=fs, color="#111111")))
for p in (1, 2, 3):
    sx = "" if p == 1 else str(p)
    for xs, nm in zip(ROUND_STARTS, ROUND_NAMES):
        hidden = (p < 3 and nm == "R6") or (p == 3 and nm == "R4")
        ann.append(dict(text=nm, xref="x" + sx, yref="y" + sx + " domain", x=xs, y=0.95, xanchor="left",
                        yanchor="middle", xshift=5, showarrow=False,
                        font=dict(family=FONT, size=15, color="#ebebeb" if hidden else "#666666")))
layout["annotations"] = ann

fig.update_layout(**layout)
fig.write_html("out.html")
